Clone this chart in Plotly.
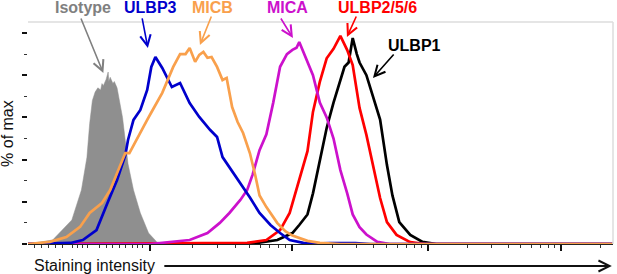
import plotly.graph_objects as go
import math

# Display-scale x positions (log10-like display units of staining intensity), y = % of max
iso_x = [1.11, 1.29, 1.43, 1.50, 1.54, 1.56, 1.58, 1.60, 1.62, 1.64, 1.65, 1.66, 1.68, 1.69, 1.695,
         1.70, 1.71, 1.73, 1.74, 1.76, 1.77, 1.80, 1.82, 1.84, 1.88, 1.93, 1.99, 2.05, 2.11]
iso_y = [0, 1.9, 11.4, 25.6, 41, 57, 68, 72, 74, 73, 76, 75, 78, 80, 81.5,
         77, 79, 76, 77, 74, 70, 60, 49, 38, 25.6, 14.7, 5.2, 1, 0]

ulbp3_x = [1.11, 1.42, 1.51, 1.61, 1.69, 1.76, 1.82, 1.84, 1.88, 1.93, 1.98, 2.01, 2.04, 2.09, 2.16,
           2.22, 2.29, 2.36, 2.44, 2.49, 2.53, 2.58, 2.66, 2.73, 2.80, 2.88, 2.95, 3.02, 3.12, 3.22,
           3.31, 3.50, 3.61, 5.38]
ulbp3_y = [0, 0.5, 1.9, 6.6, 19.4, 30.3, 42, 49.3, 58.8, 63.5, 73, 83.9, 88.6, 83.4, 74.4,
           76.3, 66.8, 60.2, 54, 50.7, 41.2, 36.5, 28.9, 22, 14.7, 9, 5.2, 1.9, 0.5, 0.2,
           0.4, 0.4, 0, 0]

micb_x = [1.11, 1.27, 1.39, 1.49, 1.56, 1.65, 1.71, 1.78, 1.82, 1.85, 1.91, 1.98, 2.02, 2.09, 2.17,
          2.22, 2.26, 2.29, 2.33, 2.36, 2.39, 2.42, 2.45, 2.49, 2.53, 2.56, 2.60, 2.64, 2.68, 2.73,
          2.77, 2.80, 2.85, 2.93, 2.99, 3.04, 3.15, 3.24, 3.39, 5.38]
micb_y = [0, 1, 3.3, 8.1, 14.7, 19.4, 25.6, 36.5, 43.1, 43.1, 50.7, 58.8, 63.5, 71.6, 83.9,
          90, 90, 92.9, 86.3, 89.6, 91, 88.2, 88.6, 83.9, 77.7, 78.7, 64.9, 57.8, 52.6, 43,
          32.2, 23, 17.5, 9.9, 6, 4, 1.5, 0.5, 0, 0]

mica_x = [1.11, 2.00, 2.29, 2.42, 2.51, 2.58, 2.66, 2.71, 2.75, 2.80, 2.85, 2.90, 2.95, 3.00,
          3.04, 3.07, 3.09, 3.12, 3.15, 3.19, 3.24, 3.29, 3.34, 3.39, 3.44, 3.48, 3.53, 3.58,
          3.66, 3.75, 5.38]
mica_y = [0, 0, 1.9, 5.2, 10, 14.7, 20.9, 25.6, 33, 44.5, 52, 67, 84, 90,
          92, 93, 95.7, 91, 87, 80, 67, 60, 50, 35, 24, 14, 8, 4.5,
          1, 0, 0]

ulbp256_x = [1.11, 2.71, 2.85, 2.95, 3.02, 3.09, 3.15, 3.19, 3.24, 3.29, 3.34, 3.39, 3.44, 3.48,
             3.53, 3.58, 3.63, 3.68, 3.73, 3.80, 3.90, 4.01, 5.38]
ulbp256_y = [0, 0.5, 1.9, 6.6, 14.7, 30, 44, 62.6, 76.8, 88, 92.5, 98.6, 91.9, 84.8,
             64.5, 51.7, 37.4, 21.8, 10.4, 4.3, 0.9, 0, 0]

ulbp1_x = [1.11, 2.73, 2.93, 3.04, 3.09, 3.15, 3.19, 3.24, 3.29, 3.34, 3.39, 3.42, 3.45, 3.48,
           3.51, 3.53, 3.58, 3.63, 3.68, 3.73, 3.77, 3.82, 3.90, 3.99, 4.09, 5.38]
ulbp1_y = [0, 0, 1.9, 5.2, 9, 14, 24, 40, 55, 67, 78, 84, 86, 97.6,
           90, 86, 80, 70, 59, 37.4, 23, 10.4, 4.3, 1, 0, 0]

# axis tick positions (display units)
x_major = [2.0, 3.036, 4.029, 5.0]
x_minor_low = [1.161, 1.212, 1.263, 1.314, 1.365, 1.438, 1.474, 1.511, 1.547,
               1.635, 1.686, 1.730, 1.781, 1.825, 1.876, 1.912, 1.949]
y_major = [0, 20, 40, 60, 80, 100]
y_minor = [10, 30, 50, 70, 90]

X_RANGE = [1.11, 5.38]
Y_RANGE = [0, 105.2]

x_minor = list(x_minor_low)
decades = x_major + [x_major[-1] + 0.97]
for a, b in zip(decades[:-1], decades[1:]):
    for k in range(2, 10):
        v = a + (b - a) * math.log10(k)
        if v < X_RANGE[1]:
            x_minor.append(v)

GRAY = "#8f8f8f"
BLUE = "#0000cc"
ORANGE = "#f9a04c"
MAGENTA = "#cc11cc"
RED = "#ff0000"
BLACK = "#000000"

fig = go.Figure()
fig.add_trace(go.Scatter(x=iso_x, y=iso_y, mode="lines", fill="tozeroy",
                         fillcolor=GRAY, line=dict(color=GRAY, width=0.5), name="Isotype"))
fig.add_trace(go.Scatter(x=ulbp1_x, y=ulbp1_y, mode="lines", line=dict(color=BLACK, width=2.7), name="ULBP1"))
fig.add_trace(go.Scatter(x=ulbp256_x, y=ulbp256_y, mode="lines", line=dict(color=RED, width=2.7), name="ULBP2/5/6"))
fig.add_trace(go.Scatter(x=mica_x, y=mica_y, mode="lines", line=dict(color=MAGENTA, width=2.7), name="MICA"))
fig.add_trace(go.Scatter(x=ulbp3_x, y=ulbp3_y, mode="lines", line=dict(color=BLUE, width=2.7), name="ULBP3"))
fig.add_trace(go.Scatter(x=micb_x, y=micb_y, mode="lines", line=dict(color=ORANGE, width=2.7), name="MICB"))

FONT = "Arial, Liberation Sans, sans-serif"

labels = [
    ("Isotype", "#808080", 0.094, 1.065),
    ("ULBP3", BLUE, 0.210, 1.065),
    ("MICB", ORANGE, 0.316, 1.065),
    ("MICA", MAGENTA, 0.443, 1.065),
    ("ULBP2/5/6", RED, 0.598, 1.065),
    ("ULBP1", BLACK, 0.660, 0.892),
]
for txt, col, xp, yp in labels:
    fig.add_annotation(text="<b>%s</b>" % txt, xref="paper", yref="paper", x=xp, y=yp,
                       xanchor="center", yanchor="middle", showarrow=False,
                       font=dict(family=FONT, size=16, color=col))

# arrows: tip in data coordinates, tail as pixel offsets
arrows = [
    ("#808080", 1.66, 81.0, -23, -56),
    (BLUE, 1.985, 92.9, -6, -31),
    (ORANGE, 2.365, 94.3, 12, -30),
    (MAGENTA, 3.044, 97.6, -13, -21),
    (RED, 3.438, 98.1, 10, -22),
    (BLACK, 3.628, 78.7, 22, -25),
]
for col, xa, ya, ax, ay in arrows:
    fig.add_annotation(text="", x=xa, y=ya, xref="x", yref="y", ax=ax, ay=ay,
                       showarrow=True, arrowhead=5, arrowsize=1.3, arrowwidth=1.6,
                       arrowcolor=col, standoff=0)

# axis titles
fig.add_annotation(text="% of max", xref="paper", yref="paper", x=-0.036, y=0.5,
                   textangle=-90, showarrow=False, xanchor="center", yanchor="middle",
                   font=dict(family=FONT, size=16, color="#111111"))
fig.add_annotation(text="Staining intensity", xref="paper", yref="paper", x=0.0068, y=-0.095,
                   xanchor="left", yanchor="middle", showarrow=False,
                   font=dict(family=FONT, size=16, color="#111111"))
fig.add_annotation(text="", xref="paper", yref="paper", x=0.998, y=-0.099, ax=-449, ay=0,
                   showarrow=True, arrowhead=5, arrowsize=1.2, arrowwidth=1.8,
                   arrowcolor="#111111", standoff=0)

# light frame on top and right
fig.add_shape(type="line", xref="paper", yref="paper", x0=0, x1=1, y0=1, y1=1,
              line=dict(color="#dcdcdc", width=1.5))
fig.add_shape(type="line", xref="paper", yref="paper", x0=1, x1=1, y0=0, y1=1,
              line=dict(color="#dcdcdc", width=1.5))

fig.update_layout(
    width=617, height=274,
    margin=dict(l=28, r=4, t=22, b=30),
    paper_bgcolor="white", plot_bgcolor="white",
    showlegend=False,
    xaxis=dict(range=X_RANGE, showgrid=False, zeroline=False, showticklabels=False,
               showline=True, linecolor="#222222", linewidth=1,
               tickmode="array", tickvals=x_major, ticks="outside", ticklen=6,
               tickwidth=1.5, tickcolor="#111111",
               minor=dict(tickmode="array", tickvals=x_minor, ticks="outside",
                          ticklen=3, tickwidth=1, tickcolor="#333333")),
    yaxis=dict(range=Y_RANGE, showgrid=False, zeroline=False, showticklabels=False,
               showline=False,
               tickmode="array", tickvals=y_major, ticks="outside", ticklen=5,
               tickwidth=1.5, tickcolor="#111111",
               minor=dict(tickmode="array", tickvals=y_minor, ticks="outside",
                          ticklen=3, tickwidth=1, tickcolor="#333333")),
)

fig.write_html("out.html", config={"displayModeBar": False},
               post_script="document.body.style.margin='0px';document.body.style.overflow='hidden';")
